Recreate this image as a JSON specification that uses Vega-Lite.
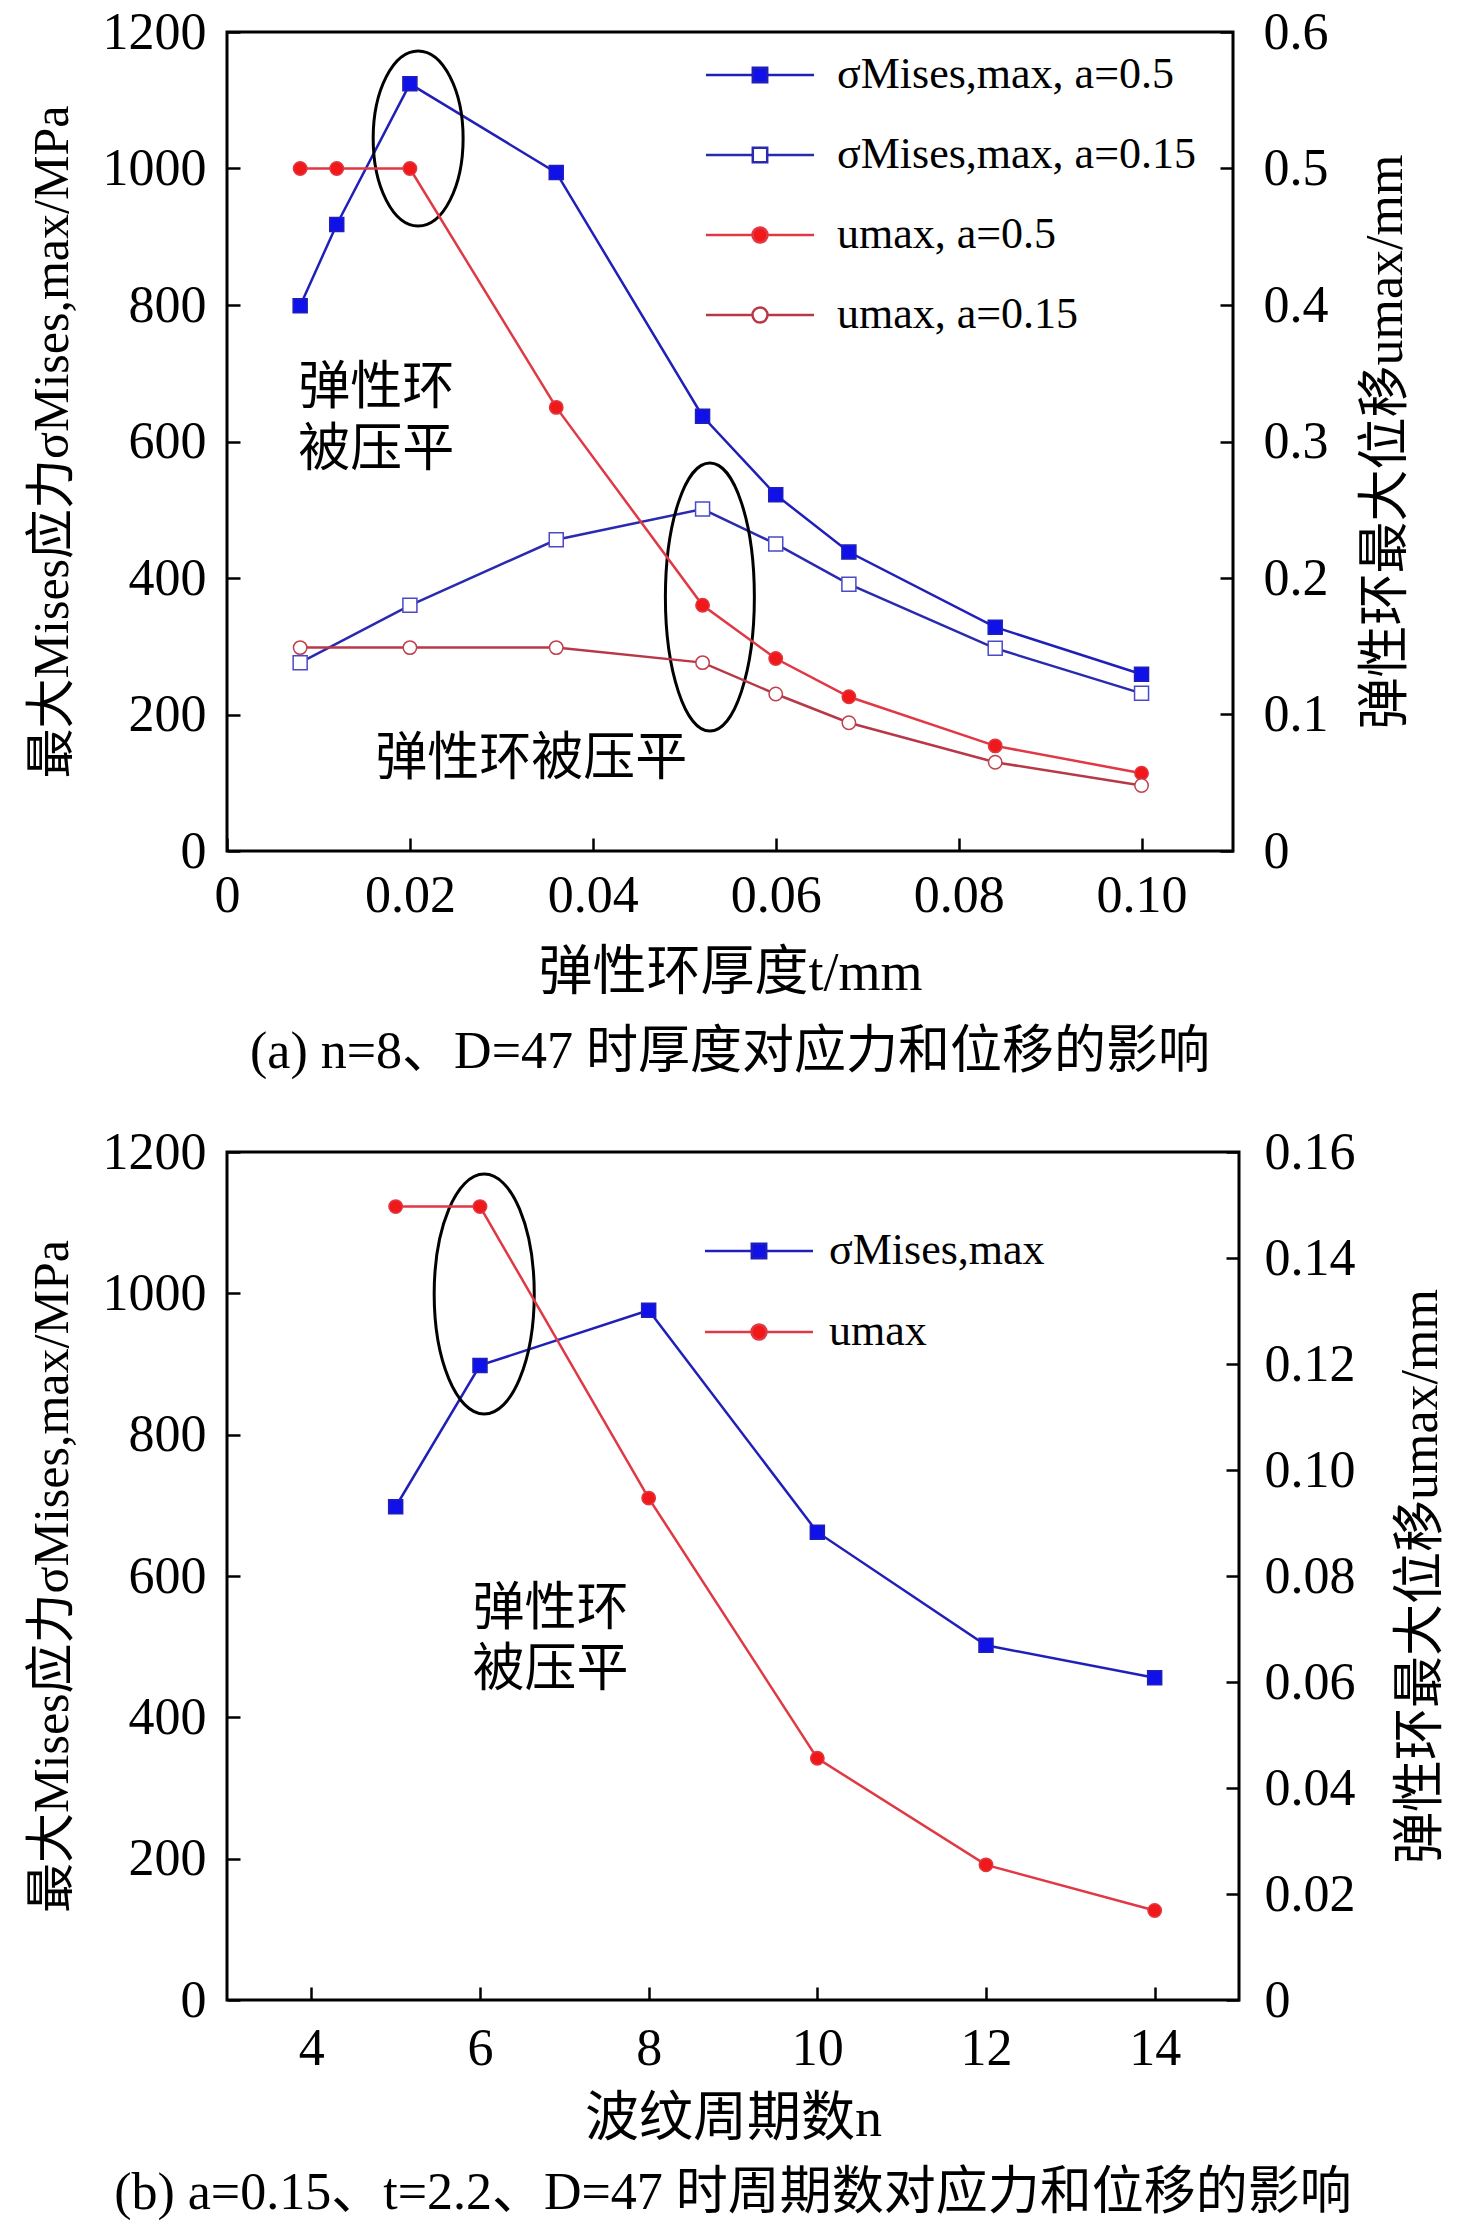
{
  "$schema": "https://vega.github.io/schema/vega-lite/v6.json",
  "background": "white",
  "padding": {"left": 25, "top": 4, "right": 5, "bottom": 5},
  "spacing": 44,
  "resolve": {"scale": {"stroke": "independent", "fill": "independent", "shape": "independent"}},
  "config": {
    "view": {"stroke": "black", "strokeWidth": 3},
    "axis": {
      "domain": false, "grid": false, "ticks": true, "tickColor": "black", "tickWidth": 2.5, "tickSize": -13,
      "labelFont": "Liberation Serif", "labelFontSize": 52, "labelColor": "black", "labelOverlap": false, "labelFlush": false,
      "titleFont": "Liberation Serif, Noto Sans CJK SC", "titleFontSize": 54, "titleFontWeight": "normal", "titleColor": "black"
    },
    "title": {"font": "Liberation Serif, Noto Sans CJK SC", "fontSize": 52, "fontWeight": "normal", "color": "black"}
  },
  "datasets": {
    "a_s": [
      {"t": 0.008, "s": 799, "series": "σMises,max, a=0.5"},
      {"t": 0.012, "s": 918, "series": "σMises,max, a=0.5"},
      {"t": 0.02, "s": 1124, "series": "σMises,max, a=0.5"},
      {"t": 0.036, "s": 994, "series": "σMises,max, a=0.5"},
      {"t": 0.052, "s": 637, "series": "σMises,max, a=0.5"},
      {"t": 0.06, "s": 522, "series": "σMises,max, a=0.5"},
      {"t": 0.068, "s": 438, "series": "σMises,max, a=0.5"},
      {"t": 0.084, "s": 328, "series": "σMises,max, a=0.5"},
      {"t": 0.1, "s": 259, "series": "σMises,max, a=0.5"},
      {"t": 0.008, "s": 276, "series": "σMises,max, a=0.15"},
      {"t": 0.02, "s": 360, "series": "σMises,max, a=0.15"},
      {"t": 0.036, "s": 456, "series": "σMises,max, a=0.15"},
      {"t": 0.052, "s": 501, "series": "σMises,max, a=0.15"},
      {"t": 0.06, "s": 450, "series": "σMises,max, a=0.15"},
      {"t": 0.068, "s": 391, "series": "σMises,max, a=0.15"},
      {"t": 0.084, "s": 297, "series": "σMises,max, a=0.15"},
      {"t": 0.1, "s": 231, "series": "σMises,max, a=0.15"}
    ],
    "a_u": [
      {"t": 0.008, "u": 0.5, "series": "umax, a=0.5"},
      {"t": 0.012, "u": 0.5, "series": "umax, a=0.5"},
      {"t": 0.02, "u": 0.5, "series": "umax, a=0.5"},
      {"t": 0.036, "u": 0.325, "series": "umax, a=0.5"},
      {"t": 0.052, "u": 0.18, "series": "umax, a=0.5"},
      {"t": 0.06, "u": 0.141, "series": "umax, a=0.5"},
      {"t": 0.068, "u": 0.113, "series": "umax, a=0.5"},
      {"t": 0.084, "u": 0.077, "series": "umax, a=0.5"},
      {"t": 0.1, "u": 0.057, "series": "umax, a=0.5"},
      {"t": 0.008, "u": 0.149, "series": "umax, a=0.15"},
      {"t": 0.02, "u": 0.149, "series": "umax, a=0.15"},
      {"t": 0.036, "u": 0.149, "series": "umax, a=0.15"},
      {"t": 0.052, "u": 0.138, "series": "umax, a=0.15"},
      {"t": 0.06, "u": 0.115, "series": "umax, a=0.15"},
      {"t": 0.068, "u": 0.094, "series": "umax, a=0.15"},
      {"t": 0.084, "u": 0.065, "series": "umax, a=0.15"},
      {"t": 0.1, "u": 0.048, "series": "umax, a=0.15"}
    ],
    "b_s": [
      {"n": 5, "s": 698, "series": "σMises,max"},
      {"n": 6, "s": 898, "series": "σMises,max"},
      {"n": 8, "s": 976, "series": "σMises,max"},
      {"n": 10, "s": 662, "series": "σMises,max"},
      {"n": 12, "s": 502, "series": "σMises,max"},
      {"n": 14, "s": 456, "series": "σMises,max"}
    ],
    "b_u": [
      {"n": 5, "u": 0.1497, "series": "umax"},
      {"n": 6, "u": 0.1497, "series": "umax"},
      {"n": 8, "u": 0.0947, "series": "umax"},
      {"n": 10, "u": 0.0456, "series": "umax"},
      {"n": 12, "u": 0.0255, "series": "umax"},
      {"n": 14, "u": 0.0169, "series": "umax"}
    ]
  },
  "vconcat": [
    {
      "width": 1006,
      "height": 819,
      "title": {"text": "(a) n=8、D=47 时厚度对应力和位移的影响", "orient": "bottom", "anchor": "middle", "frame": "group", "offset": 27},
      "encoding": {
        "x": {"field": "t", "type": "quantitative", "scale": {"domain": [0, 0.11], "nice": false, "zero": false},
          "axis": {"values": [0, 0.02, 0.04, 0.06, 0.08, 0.1], "labelExpr": "datum.value == 0 ? '0' : format(datum.value, '.2f')", "labelPadding": 32, "title": "弹性环厚度t/mm", "titlePadding": 25}}
      },
      "layer": [
        {
          "encoding": {
            "y": {"field": "s", "type": "quantitative", "scale": {"domain": [0, 1200], "nice": false},
              "axis": {"orient": "left", "values": [0, 200, 400, 600, 800, 1000, 1200], "format": "d", "labelPadding": 34, "title": "最大Mises应力σMises,max/MPa", "titleFontSize": 50, "titlePadding": 25}}
          },
          "layer": [
            {
              "data": {"name": "a_s"},
              "mark": {"type": "line", "strokeWidth": 2.5, "opacity": 1},
              "encoding": {
                "stroke": {"field": "series", "type": "nominal",
                  "scale": {"domain": ["σMises,max, a=0.5", "σMises,max, a=0.15", "umax, a=0.5", "umax, a=0.15"], "range": ["#2020b8", "#2a2ab0", "#e03845", "#b83848"]},
                  "legend": {"title": null, "orient": "none", "legendX": 511, "legendY": 21, "direction": "vertical", "padding": 0,
                    "symbolSize": 400, "symbolStrokeWidth": 2.5, "labelOffset": 55, "rowPadding": 36,
                    "labelFont": "Liberation Serif", "labelFontSize": 44, "labelColor": "black", "labelLimit": 0, "labelBaseline": "middle"}
                }
              }
            },
            {
              "data": {"name": "a_s"},
              "transform": [{"filter": "false"}],
              "mark": {"type": "point", "size": 190, "strokeWidth": 1.5, "opacity": 1, "fillOpacity": 1},
              "encoding": {
                "stroke": {"field": "series", "type": "nominal",
                  "scale": {"domain": ["σMises,max, a=0.5", "σMises,max, a=0.15", "umax, a=0.5", "umax, a=0.15"], "range": ["#2020b8", "#2a2ab0", "#e03845", "#b83848"]}},
                "fill": {"field": "series", "type": "nominal",
                  "scale": {"domain": ["σMises,max, a=0.5", "σMises,max, a=0.15", "umax, a=0.5", "umax, a=0.15"], "range": ["#1010e8", "white", "#f01818", "white"]}, "legend": null},
                "shape": {"field": "series", "type": "nominal",
                  "scale": {"domain": ["σMises,max, a=0.5", "σMises,max, a=0.15", "umax, a=0.5", "umax, a=0.15"],
                    "range": [
                      "M -5.4 0 L -0.72 0 M 0.72 0 L 5.4 0 M -0.72 -0.72 L 0.72 -0.72 L 0.72 0.72 L -0.72 0.72 Z",
                      "M -5.4 0 L -0.72 0 M 0.72 0 L 5.4 0 M -0.72 -0.72 L 0.72 -0.72 L 0.72 0.72 L -0.72 0.72 Z",
                      "M -5.4 0 L -0.75 0 M 0.75 0 L 5.4 0 M 0.75 0 C 0.75 0.41 0.41 0.75 0 0.75 C -0.41 0.75 -0.75 0.41 -0.75 0 C -0.75 -0.41 -0.41 -0.75 0 -0.75 C 0.41 -0.75 0.75 -0.41 0.75 0 Z",
                      "M -5.4 0 L -0.75 0 M 0.75 0 L 5.4 0 M 0.75 0 C 0.75 0.41 0.41 0.75 0 0.75 C -0.41 0.75 -0.75 0.41 -0.75 0 C -0.75 -0.41 -0.41 -0.75 0 -0.75 C 0.41 -0.75 0.75 -0.41 0.75 0 Z"
                    ]}, "legend": null}
              }
            },
            {
              "data": {"name": "a_s"},
              "transform": [{"filter": "datum.series == 'σMises,max, a=0.5'"}],
              "mark": {"type": "point", "shape": "square", "size": 196, "filled": true, "fill": "#1010e8", "stroke": "#2020b8", "strokeWidth": 1.5, "opacity": 1}
            },
            {
              "data": {"name": "a_s"},
              "transform": [{"filter": "datum.series == 'σMises,max, a=0.15'"}],
              "mark": {"type": "point", "shape": "square", "size": 196, "filled": false, "fill": "white", "fillOpacity": 1, "stroke": "#4a4ac8", "strokeWidth": 1.5, "opacity": 1}
            },
            {
              "data": {"values": [{"t": 0.0209, "s": 1044}]},
              "mark": {"type": "point", "shape": "M 0.514 0 C 0.514 0.552 0.284 1 0 1 C -0.284 1 -0.514 0.552 -0.514 0 C -0.514 -0.552 -0.284 -1 0 -1 C 0.284 -1 0.514 -0.552 0.514 0 Z", "size": 30625, "filled": false, "stroke": "black", "strokeWidth": 3, "opacity": 1}
            },
            {
              "data": {"values": [{"t": 0.0528, "s": 372}]},
              "mark": {"type": "point", "shape": "M 0.332 0 C 0.332 0.552 0.183 1 0 1 C -0.183 1 -0.332 0.552 -0.332 0 C -0.332 -0.552 -0.183 -1 0 -1 C 0.183 -1 0.332 -0.552 0.332 0 Z", "size": 71824, "filled": false, "stroke": "black", "strokeWidth": 3, "opacity": 1}
            },
            {
              "data": {"values": [
                {"t": 0.0078, "s": 678, "label": "弹性环"},
                {"t": 0.0078, "s": 588, "label": "被压平"},
                {"t": 0.0162, "s": 135, "label": "弹性环被压平"}
              ]},
              "mark": {"type": "text", "align": "left", "baseline": "middle", "font": "Noto Sans CJK SC", "fontSize": 52, "color": "black"},
              "encoding": {"text": {"field": "label", "type": "nominal"}}
            }
          ]
        },
        {
          "data": {"name": "a_u"},
          "encoding": {
            "y": {"field": "u", "type": "quantitative", "scale": {"domain": [0, 0.6], "nice": false},
              "axis": {"orient": "right", "values": [0, 0.1, 0.2, 0.3, 0.4, 0.5, 0.6], "labelExpr": "datum.value == 0 ? '0' : format(datum.value, '.1f')", "labelPadding": 43, "title": "弹性环最大位移umax/mm", "titleFontSize": 52, "titleAngle": 270, "titleBaseline": "top", "titlePadding": 32}}
          },
          "layer": [
            {
              "mark": {"type": "line", "strokeWidth": 2.5, "opacity": 1},
              "encoding": {
                "stroke": {"field": "series", "type": "nominal",
                  "scale": {"domain": ["σMises,max, a=0.5", "σMises,max, a=0.15", "umax, a=0.5", "umax, a=0.15"], "range": ["#2020b8", "#2a2ab0", "#e03845", "#b83848"]}}
              }
            },
            {
              "transform": [{"filter": "datum.series == 'umax, a=0.5'"}],
              "mark": {"type": "point", "shape": "circle", "size": 180, "filled": true, "fill": "#f01818", "stroke": "#e03845", "strokeWidth": 1.5, "opacity": 1}
            },
            {
              "transform": [{"filter": "datum.series == 'umax, a=0.15'"}],
              "mark": {"type": "point", "shape": "circle", "size": 180, "filled": false, "fill": "white", "fillOpacity": 1, "stroke": "#c04050", "strokeWidth": 1.5, "opacity": 1}
            }
          ]
        }
      ],
      "resolve": {"scale": {"y": "independent"}}
    },
    {
      "width": 1012,
      "height": 848,
      "title": {"text": "(b) a=0.15、t=2.2、D=47 时周期数对应力和位移的影响", "orient": "bottom", "anchor": "middle", "frame": "group", "offset": 22},
      "encoding": {
        "x": {"field": "n", "type": "quantitative", "scale": {"domain": [3, 15], "nice": false, "zero": false},
          "axis": {"values": [4, 6, 8, 10, 12, 14], "format": "d", "labelPadding": 36, "title": "波纹周期数n", "titlePadding": 18}}
      },
      "layer": [
        {
          "encoding": {
            "y": {"field": "s", "type": "quantitative", "scale": {"domain": [0, 1200], "nice": false},
              "axis": {"orient": "left", "values": [0, 200, 400, 600, 800, 1000, 1200], "format": "d", "labelPadding": 34, "title": "最大Mises应力σMises,max/MPa", "titleFontSize": 50, "titlePadding": 25}}
          },
          "layer": [
            {
              "data": {"name": "b_s"},
              "mark": {"type": "line", "strokeWidth": 2.5, "opacity": 1},
              "encoding": {
                "stroke": {"field": "series", "type": "nominal",
                  "scale": {"domain": ["σMises,max", "umax"], "range": ["#2020b8", "#e03845"]},
                  "legend": {"title": null, "orient": "none", "legendX": 510, "legendY": 77, "direction": "vertical", "padding": 0,
                    "symbolSize": 400, "symbolStrokeWidth": 2.5, "labelOffset": 48, "rowPadding": 37,
                    "labelFont": "Liberation Serif", "labelFontSize": 44, "labelColor": "black", "labelLimit": 0, "labelBaseline": "middle"}
                }
              }
            },
            {
              "data": {"name": "b_s"},
              "transform": [{"filter": "false"}],
              "mark": {"type": "point", "size": 190, "strokeWidth": 1.5, "opacity": 1, "fillOpacity": 1},
              "encoding": {
                "stroke": {"field": "series", "type": "nominal", "scale": {"domain": ["σMises,max", "umax"], "range": ["#2020b8", "#e03845"]}},
                "fill": {"field": "series", "type": "nominal", "scale": {"domain": ["σMises,max", "umax"], "range": ["#1010e8", "#f01818"]}, "legend": null},
                "shape": {"field": "series", "type": "nominal", "scale": {"domain": ["σMises,max", "umax"],
                  "range": [
                    "M -5.4 0 L -0.72 0 M 0.72 0 L 5.4 0 M -0.72 -0.72 L 0.72 -0.72 L 0.72 0.72 L -0.72 0.72 Z",
                    "M -5.4 0 L -0.75 0 M 0.75 0 L 5.4 0 M 0.75 0 C 0.75 0.41 0.41 0.75 0 0.75 C -0.41 0.75 -0.75 0.41 -0.75 0 C -0.75 -0.41 -0.41 -0.75 0 -0.75 C 0.41 -0.75 0.75 -0.41 0.75 0 Z"
                  ]}, "legend": null}
              }
            },
            {
              "data": {"name": "b_s"},
              "mark": {"type": "point", "shape": "square", "size": 196, "filled": true, "fill": "#1010e8", "stroke": "#2020b8", "strokeWidth": 1.5, "opacity": 1}
            },
            {
              "data": {"values": [{"n": 6.05, "s": 999}]},
              "mark": {"type": "point", "shape": "M 0.417 0 C 0.417 0.552 0.23 1 0 1 C -0.23 1 -0.417 0.552 -0.417 0 C -0.417 -0.552 -0.23 -1 0 -1 C 0.23 -1 0.417 -0.552 0.417 0 Z", "size": 57600, "filled": false, "stroke": "black", "strokeWidth": 3, "opacity": 1}
            },
            {
              "data": {"values": [
                {"n": 5.91, "s": 553, "label": "弹性环"},
                {"n": 5.91, "s": 467, "label": "被压平"}
              ]},
              "mark": {"type": "text", "align": "left", "baseline": "middle", "font": "Noto Sans CJK SC", "fontSize": 52, "color": "black"},
              "encoding": {"text": {"field": "label", "type": "nominal"}}
            }
          ]
        },
        {
          "data": {"name": "b_u"},
          "encoding": {
            "y": {"field": "u", "type": "quantitative", "scale": {"domain": [0, 0.16], "nice": false},
              "axis": {"orient": "right", "values": [0, 0.02, 0.04, 0.06, 0.08, 0.1, 0.12, 0.14, 0.16], "labelExpr": "datum.value == 0 ? '0' : format(datum.value, '.2f')", "labelPadding": 38, "title": "弹性环最大位移umax/mm", "titleFontSize": 52, "titleAngle": 270, "titleBaseline": "top", "titlePadding": 40}}
          },
          "layer": [
            {
              "mark": {"type": "line", "strokeWidth": 2.5, "opacity": 1},
              "encoding": {
                "stroke": {"field": "series", "type": "nominal", "scale": {"domain": ["σMises,max", "umax"], "range": ["#2020b8", "#e03845"]}}
              }
            },
            {
              "mark": {"type": "point", "shape": "circle", "size": 180, "filled": true, "fill": "#f01818", "stroke": "#e03845", "strokeWidth": 1.5, "opacity": 1}
            }
          ]
        }
      ],
      "resolve": {"scale": {"y": "independent"}}
    }
  ]
}
